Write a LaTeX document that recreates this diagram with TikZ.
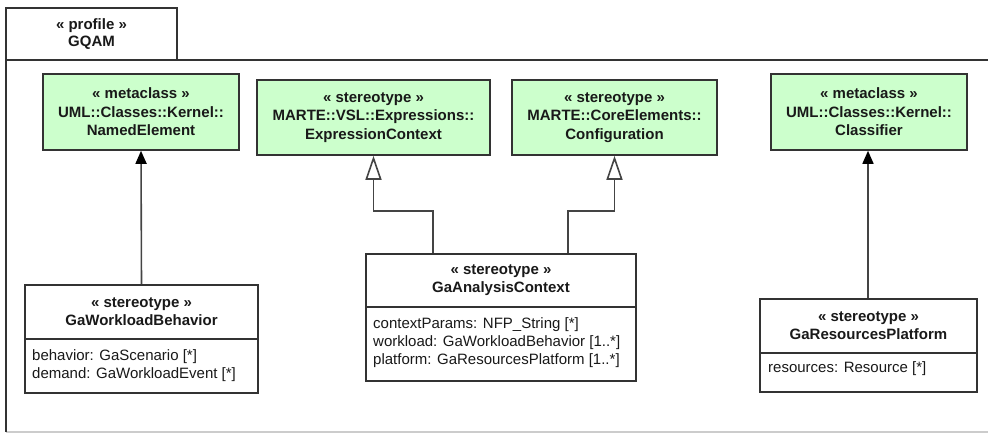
\documentclass[tikz,border=0pt]{standalone}
\usepackage{fontspec}
\setmainfont{Liberation Sans}
\usetikzlibrary{arrows.meta}
\definecolor{boxgreen}{HTML}{CCFFCC}
\definecolor{edge}{HTML}{333333}
\definecolor{conn}{HTML}{444444}
\tikzset{
  x=1pt, y=-1pt,
  greenbox/.style={draw=edge, line width=1.6pt, fill=boxgreen, inner sep=0pt},
  whitebox/.style={draw=edge, line width=1.6pt, fill=white, inner sep=0pt},
  hdr/.style={font=\bfseries\fontsize{15}{18.5}\selectfont, align=center, inner sep=0pt, text=black!90},
  attr/.style={font=\fontsize{15}{18}\selectfont, align=left, inner sep=0pt, anchor=west, text=black!90},
  sep/.style={draw=edge, line width=1.6pt},
  ext/.style={draw=conn, line width=1.6pt, -{Triangle[width=11pt,length=13pt,color=black]}},
  gen/.style={draw=conn, line width=1.6pt, -{Triangle[width=16pt,length=24pt,fill=white]}},
  frameline/.style={draw=edge, line width=1.6pt},
}
\begin{document}
\begin{tikzpicture}
\useasboundingbox (0,0) rectangle (988,434);
% frame
\draw[draw=black!20, line width=1.2pt] (6,432) -- (988,432);
\draw[frameline] (988,60) -- (6,60) -- (6,432);
\node[whitebox, minimum width=171pt, minimum height=52pt] (tab) at (91.5,34) {};
\node[hdr, font=\bfseries\fontsize{15}{17}\selectfont] (tabtxt) at (tab) {« profile »\\GQAM};
% green boxes
\node[greenbox, minimum width=196pt, minimum height=76pt] (ne) at (141,112) {};
\node[hdr] (netxt) at (ne) {« metaclass »\\UML::Classes::Kernel::\\NamedElement};
\node[greenbox, minimum width=233pt, minimum height=75pt] (ec) at (373.5,117.5) {};
\node[hdr] (ectxt) at (ec) {« stereotype »\\MARTE::VSL::Expressions::\\ExpressionContext};
\node[greenbox, minimum width=205pt, minimum height=75pt] (cf) at (614.5,117.5) {};
\node[hdr] (cftxt) at (cf) {« stereotype »\\MARTE::CoreElements::\\Configuration};
\node[greenbox, minimum width=196pt, minimum height=76pt] (cl) at (869,112) {};
\node[hdr] (cltxt) at (cl) {« metaclass »\\UML::Classes::Kernel::\\Classifier};
% white stereotype boxes
\node[whitebox, minimum width=233pt, minimum height=108pt] (wb) at (141.5,339) {};
\draw[sep] (25,339) -- (258,339);
\node[hdr, font=\bfseries\fontsize{15}{18}\selectfont] (wbtxt) at (141.5,312) {« stereotype »\\GaWorkloadBehavior};
\node[attr] (wbattr) at (32,365.5) {behavior: GaScenario [*]\\demand: GaWorkloadEvent [*]};
\node[whitebox, minimum width=270pt, minimum height=127pt] (ac) at (501,317.5) {};
\draw[sep] (366,307) -- (636,307);
\node[hdr, font=\bfseries\fontsize{15}{18}\selectfont] (actxt) at (501,280.5) {« stereotype »\\GaAnalysisContext};
\node[attr] (acattr) at (373,343) {contextParams: NFP\_String [*]\\workload: GaWorkloadBehavior [1..*]\\platform: GaResourcesPlatform [1..*]};
\node[whitebox, minimum width=217pt, minimum height=93pt] (rp) at (868.5,345.5) {};
\draw[sep] (760,353) -- (977,353);
\node[hdr, font=\bfseries\fontsize{15}{18}\selectfont] (rptxt) at (868.5,326) {« stereotype »\\GaResourcesPlatform};
\node[attr] (rpattr) at (768,369) {resources: Resource [*]};
% connectors
\draw[ext] (wb.north) -- (ne.south);
\draw[ext] ([xshift=-0.5pt]rp.north) -- ([xshift=-1pt]cl.south);
\draw[gen] ([xshift=-68pt]ac.north) -- ++(0,-42) -| (ec.south);
\draw[gen] ([xshift=67pt]ac.north) -- ++(0,-42) -| (cf.south);
\end{tikzpicture}
\end{document}
